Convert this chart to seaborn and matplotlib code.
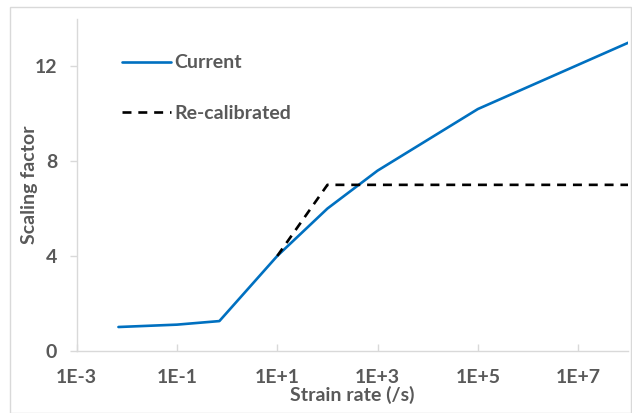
import matplotlib
matplotlib.use("Agg")
import matplotlib.pyplot as plt
from matplotlib.patches import Rectangle
from matplotlib.ticker import FixedLocator, FixedFormatter, NullLocator
import seaborn as sns
import pandas as pd

# Strain rate (/s) and scaling factor for each model
current_rate = [0.0068, 0.1, 0.7, 10, 100, 1000, 1e5, 1e8]
current_factor = [1.0, 1.1, 1.25, 4.0, 6.0, 7.6, 10.2, 13.0]
recal_rate = [10, 100, 1e8]
recal_factor = [4.0, 7.0, 7.0]

x_ticks = [1e-3, 1e-1, 1e1, 1e3, 1e5, 1e7]
x_tick_labels = ["1E-3", "1E-1", "1E+1", "1E+3", "1E+5", "1E+7"]
y_ticks = [0, 4, 8, 12]

sns.set_theme(style="white")
plt.rcParams["font.family"] = ["Lato", "DejaVu Sans"]
plt.rcParams["font.weight"] = "bold"

TEXT = "#595959"
AXIS = "#D9D9D9"
FS = 14

fig = plt.figure(figsize=(6.32, 4.13), dpi=100)
ax = fig.add_axes([76.7 / 632, 1 - 350.7 / 413, (628.3 - 76.7) / 632, (350.7 - 19) / 413])

cur = pd.DataFrame({"rate": current_rate, "factor": current_factor})
rec = pd.DataFrame({"rate": recal_rate, "factor": recal_factor})

sns.lineplot(data=cur, x="rate", y="factor", ax=ax, color="#0070C0",
             linewidth=1.9, label="Current")
sns.lineplot(data=rec, x="rate", y="factor", ax=ax, color="black",
             linewidth=1.9, linestyle=(0, (3.4, 2.6)), label="Re-calibrated")

ax.set_xscale("log")
ax.set_xlim(1e-3, 1e8)
ax.set_ylim(0, 14)
ax.xaxis.set_major_locator(FixedLocator(x_ticks))
ax.xaxis.set_major_formatter(FixedFormatter(x_tick_labels))
ax.xaxis.set_minor_locator(NullLocator())
ax.set_yticks(y_ticks)
ax.set_yticklabels([str(v) for v in y_ticks])

for side in ("top", "right"):
    ax.spines[side].set_visible(False)
for side in ("left", "bottom"):
    ax.spines[side].set_color(AXIS)
    ax.spines[side].set_linewidth(1.0)

ax.tick_params(axis="x", direction="in", length=5, width=1, color=AXIS,
               labelsize=FS, labelcolor=TEXT, pad=13, bottom=True)
ax.tick_params(axis="y", direction="out", length=5, width=1, color=AXIS,
               labelsize=FS, labelcolor=TEXT, pad=9, left=True)
for lbl in ax.get_xticklabels() + ax.get_yticklabels():
    lbl.set_fontweight("bold")

ax.set_xlabel("Strain rate (/s)", fontsize=FS, color=TEXT, fontweight="bold", labelpad=0)
ax.set_ylabel("Scaling factor", fontsize=FS, color=TEXT, fontweight="bold", labelpad=-2)

leg = ax.legend(loc="upper left", bbox_to_anchor=(0.082, 0.893), frameon=False,
                borderpad=0, borderaxespad=0, handlelength=2.5, handletextpad=0.2,
                labelspacing=1.72, prop={"size": FS, "weight": "bold"})
for t in leg.get_texts():
    t.set_color(TEXT)

# outer chart border
fig.patches.append(Rectangle((10.5 / 632, 0.5 / 413), (631 - 10.5) / 632, (406 - 0.5) / 413,
                             transform=fig.transFigure, fill=False,
                             edgecolor=AXIS, linewidth=1.0))

fig.savefig("out.png", dpi=100)
